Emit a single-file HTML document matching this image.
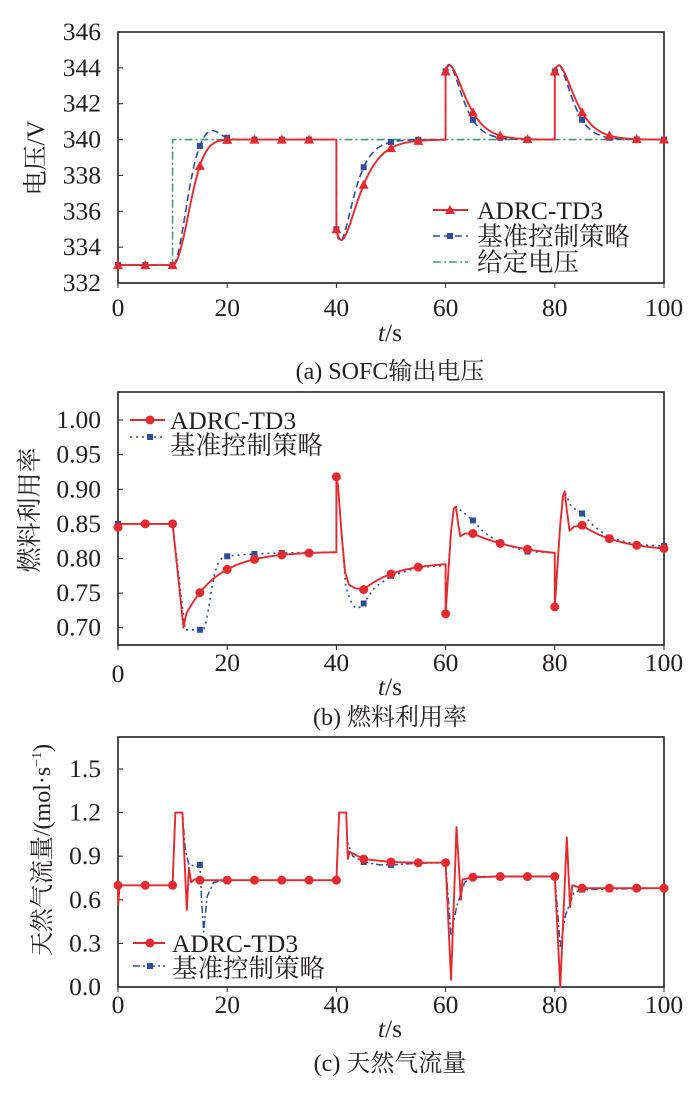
<!DOCTYPE html><html><head><meta charset="utf-8"><style>
body{margin:0;background:#fff;width:700px;height:1090px;overflow:hidden}
svg text{font-family:"Liberation Serif","Noto Serif CJK SC",serif;fill:#231f20}
</style></head><body>
<svg id="s" width="700" height="1090" xmlns="http://www.w3.org/2000/svg"></svg>
<script>
const S=document.getElementById('s');let H='';
const X0=118,X1=664,xs=t=>X0+(X1-X0)*t/100;
const RED='#e52a2f',BLUE='#2d4f9b',GREEN='#3f9c7c';
const TF=25.5;
function panel(top,bot,vmin,vmax,ticks,fmt){
 const ys=v=>bot-(v-vmin)/(vmax-vmin)*(bot-top);
 H+=`<rect x="${X0}" y="${top}" width="${X1-X0}" height="${bot-top}" fill="none" stroke="#231f20" stroke-width="1.6"/>`;
 for(const v of ticks){const y=ys(v);H+=`<line x1="${X0}" x2="${X0+5}" y1="${y}" y2="${y}" stroke="#231f20"/><text x="${X0-17}" y="${y+8}" font-size="${TF}" text-anchor="end">${fmt(v)}</text>`;}
 for(let t=0;t<=100;t+=20){H+=`<line x1="${xs(t)}" x2="${xs(t)}" y1="${bot}" y2="${bot+5}" stroke="#231f20"/>`;}
 return ys;}
function pts(f,a,b,st){const r=[];for(let t=a;t<=b+1e-9;t+=st)r.push([t,f(t)]);return r;}
function line(p,ys,col,dash,w){H+=`<polyline fill="none" stroke="${col}" stroke-width="${w||1.8}" ${dash?`stroke-dasharray="${dash}"`:''} stroke-linejoin="round" points="${p.map(q=>xs(q[0]).toFixed(1)+','+ys(q[1]).toFixed(1)).join(' ')}"/>`;}
function mk(type,x,y,col){
 if(type=='tri')H+=`<polygon points="${x},${y-5} ${x-5},${y+4} ${x+5},${y+4}" fill="${col}"/>`;
 else if(type=='sq')H+=`<rect x="${x-3}" y="${y-3}" width="6" height="6" fill="${col}"/>`;
 else H+=`<circle cx="${x}" cy="${y}" r="4.5" fill="${col}"/>`;}
function marks(f,ys,type,col){for(let t=0;t<=100;t+=5)mk(type,xs(t),ys(f(t)),col);}
function interp(P){return t=>{for(let i=1;i<P.length;i++){if(t<=P[i][0]){const a=P[i-1],b=P[i];return a[1]+(b[1]-a[1])*(t-a[0])/(b[0]-a[0]);}}return P[P.length-1][1];};}
// ---------- panel a
let ya=panel(32,283,332,346,[332,334,336,338,340,342,344,346],v=>v);
function vA(t){if(t<10)return 333;if(t<40){const s=t-10;return 333+7*(1-Math.exp(-Math.pow(s/4.0,2)));}
 if(t<60){const s=t-40;return 340-5*(1+0.756*s)*Math.exp(-0.45*s);}
 const s=t<80?t-60:t-80;return 340+3.8*(1+0.778*s)*Math.exp(-0.5*s);}
function vB(t){if(t<10)return 333;if(t<40){const s=t-10;return 340-7*Math.exp(-Math.pow(s/3.2,2))+0.55*Math.exp(-Math.pow((s-7)/2.3,2))*(1-Math.exp(-s));}
 if(t<60){const s=t-40;return 340-5*(1+1.04*s)*Math.exp(-0.6*s);}
 const s=t<80?t-60:t-80;return 340+3.8*(1+0.965*s)*Math.exp(-0.6*s);}
function series(f){const p=[];for(let t=0;t<=100.001;t+=0.1){const tt=Math.round(t*10)/10;if([40,60,80].includes(tt))p.push([tt,f(tt-0.001)]);p.push([tt,f(tt)]);}return p;}
line([[0,333],[10,333],[10,340],[100,340]],ya,GREEN,'8,3,2,3',1.6);
line(series(vB),ya,BLUE,'7,4',1.6);marks(vB,ya,'sq',BLUE);
line(series(vA),ya,RED,null,1.9);marks(vA,ya,'tri',RED);
for(let t=0;t<=100;t+=20)H+=`<text x="${xs(t)}" y="316" font-size="${TF}" text-anchor="middle">${t}</text>`;
H+=`<text x="390" y="341" font-size="${TF}" text-anchor="middle"><tspan font-style="italic">t</tspan>/s</text>`;
H+=`<text x="390" y="379" font-size="24" text-anchor="middle">(a) SOFC输出电压</text>`;
H+=`<text transform="translate(44,158) rotate(-90)" font-size="25" text-anchor="middle">电压/V</text>`;
H+=`<line x1="433" x2="468" y1="210" y2="210" stroke="${RED}" stroke-width="1.9"/>`;mk('tri',450,210,RED);
H+=`<text x="477" y="219" font-size="${TF}">ADRC-TD3</text>`;
H+=`<line x1="433" x2="468" y1="236" y2="236" stroke="${BLUE}" stroke-width="1.6" stroke-dasharray="7,4"/>`;mk('sq',450,236,BLUE);
H+=`<text x="477" y="245" font-size="${TF}">基准控制策略</text>`;
H+=`<line x1="433" x2="468" y1="262" y2="262" stroke="${GREEN}" stroke-width="1.6" stroke-dasharray="8,3,2,3"/>`;
H+=`<text x="477" y="271" font-size="${TF}">给定电压</text>`;
// ---------- panel b
let yb=panel(392,645,0.675,1.0405,[0.70,0.75,0.80,0.85,0.90,0.95,1.00],v=>v.toFixed(2));
function uA(t){if(t<0.1)return 0.845;if(t<10)return 0.85;if(t<12)return 0.85-0.15*(t-10)/2;if(t<12.5)return 0.70+0.02*(t-12)/0.5;
 if(t<40){return 0.81-0.09*Math.exp(-(t-12.5)/6);}
 if(t<60){if(t<45)return interp([[40,0.918],[40.3,0.905],[41,0.83],[41.6,0.78],[42.3,0.762],[43.5,0.757],[45,0.755]])(t);return 0.795-0.04*Math.exp(-(t-45)/6);}
 if(t<80){if(t<65)return interp([[60,0.72],[60.5,0.78],[61,0.84],[61.5,0.872],[61.9,0.875],[62.3,0.85],[62.7,0.832],[63.5,0.836],[65,0.836]])(t);return 0.80+0.036*Math.exp(-(t-65)/10);}
 if(t<85)return interp([[80,0.73],[80.5,0.79],[81,0.85],[81.5,0.89],[81.8,0.897],[82.2,0.87],[82.7,0.840],[83.5,0.846],[85,0.848]])(t);
 return 0.81+0.038*Math.exp(-(t-85)/7);}
function uB(t){if(t<0.1)return 0.85;if(t<10)return 0.85;if(t<12.3)return 0.85-0.153*(t-10)/2.3;if(t<15.5)return 0.697;
 if(t<40)return 0.809-0.112*Math.exp(-Math.pow((t-15.5)/1.8,2))-0.012*Math.exp(-(t-15.5)/6)*(1-Math.exp(-Math.pow((t-15.5)/1.8,2)));
 if(t<60)return interp([[40,0.918],[40.3,0.905],[41,0.83],[41.7,0.76],[42.5,0.74],[43.5,0.728],[44.5,0.73],[45,0.735],[47,0.758],[50,0.775],[55,0.787],[60,0.79]])(t);
 if(t<80)return interp([[60,0.72],[60.5,0.78],[61,0.84],[61.5,0.87],[62,0.875],[63,0.868],[65,0.855],[67,0.838],[70,0.822],[75,0.81],[80,0.808]])(t);
 return interp([[80,0.73],[80.5,0.79],[81,0.85],[81.5,0.885],[82,0.893],[83,0.875],[85,0.865],[87,0.848],[90,0.83],[95,0.82],[100,0.818]])(t);}
line(series(uB),yb,BLUE,'2,4',1.6);marks(uB,yb,'sq',BLUE);
line(series(uA),yb,RED,null,1.9);marks(uA,yb,'circ',RED);
H+=`<text x="${xs(0)}" y="682" font-size="${TF}" text-anchor="middle">0</text>`;
for(let t=20;t<=100;t+=20)H+=`<text x="${xs(t)}" y="671" font-size="${TF}" text-anchor="middle">${t}</text>`;
H+=`<text x="390" y="695" font-size="${TF}" text-anchor="middle"><tspan font-style="italic">t</tspan>/s</text>`;
H+=`<text x="390" y="725" font-size="24" text-anchor="middle">(b) 燃料利用率</text>`;
H+=`<text transform="translate(38,510) rotate(-90)" font-size="25" text-anchor="middle">燃料利用率</text>`;
H+=`<line x1="130" x2="165" y1="420" y2="420" stroke="${RED}" stroke-width="1.9"/>`;mk('circ',150,420,RED);
H+=`<text x="170" y="429" font-size="${TF}">ADRC-TD3</text>`;
H+=`<line x1="130" x2="165" y1="437" y2="437" stroke="${BLUE}" stroke-width="1.6" stroke-dasharray="2,4"/>`;mk('sq',150,437,BLUE);
H+=`<text x="170" y="454" font-size="${TF}">基准控制策略</text>`;
// ---------- panel c
let yc=panel(737,987,0,1.72,[0,0.3,0.6,0.9,1.2,1.5],v=>v.toFixed(1));
const qA=interp([[0,0.7],[0.05,0.57],[0.3,0.7],[10,0.7],[10.5,1.2],[11.8,1.2],[12.6,0.53],[13,0.82],[13.4,0.72],[14,0.74],[15,0.735],[40,0.735],[40.5,1.2],[41.8,1.2],[42.1,0.88],[42.4,0.93],[45,0.88],[50,0.86],[55,0.855],[60,0.855],[61,0.05],[62,1.1],[62.8,0.6],[63.1,0.74],[65,0.755],[70,0.76],[80,0.76],[81,0.0],[82.2,1.03],[82.8,0.55],[83.2,0.7],[85,0.68],[90,0.68],[100,0.68]]);
const qB=interp([[0,0.7],[10,0.7],[10.5,1.2],[11.8,1.2],[12.3,0.95],[13,0.84],[14.5,0.83],[15,0.84],[15.3,0.6],[15.7,0.38],[16.3,0.62],[17.5,0.72],[20,0.735],[40,0.735],[40.5,1.2],[41.8,1.2],[42,1.0],[43,0.9],[45,0.86],[48,0.84],[50,0.84],[55,0.852],[60,0.855],[61,0.35],[62,0.55],[63.5,0.72],[65,0.76],[70,0.76],[80,0.76],[81,0.28],[82,0.5],[83.5,0.65],[85,0.67],[100,0.68]]);
line(pts(qB,0,100,0.05),yc,BLUE,'7,3,2,3',1.5);marks(qB,yc,'sq',BLUE);
line(pts(qA,0,100,0.05),yc,RED,null,1.9);marks(qA,yc,'circ',RED);
for(let t=0;t<=100;t+=20)H+=`<text x="${xs(t)}" y="1013" font-size="${TF}" text-anchor="middle">${t}</text>`;
H+=`<text x="390" y="1037" font-size="${TF}" text-anchor="middle"><tspan font-style="italic">t</tspan>/s</text>`;
H+=`<text x="390" y="1071" font-size="24" text-anchor="middle">(c) 天然气流量</text>`;
H+=`<text transform="translate(50,850) rotate(-90)" font-size="24" text-anchor="middle">天然气流量/(mol·s<tspan font-size="14" dy="-9">−1</tspan><tspan dy="9">)</tspan></text>`;
H+=`<line x1="133" x2="165" y1="943" y2="943" stroke="${RED}" stroke-width="1.9"/>`;mk('circ',150,943,RED);
H+=`<text x="172" y="952" font-size="${TF}">ADRC-TD3</text>`;
H+=`<line x1="133" x2="165" y1="966" y2="966" stroke="${BLUE}" stroke-width="1.5" stroke-dasharray="7,3,2,3"/>`;mk('sq',150,966,BLUE);
H+=`<text x="172" y="977" font-size="${TF}">基准控制策略</text>`;
S.innerHTML=H;
</script></body></html>
